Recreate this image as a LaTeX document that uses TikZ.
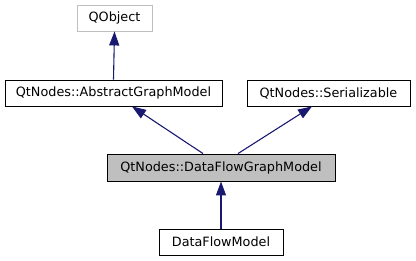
\documentclass[tikz,border=0pt]{standalone}
\usepackage{fontspec}
\setmainfont{DejaVu Sans}
\usepackage{tikz}
\usetikzlibrary{arrows.meta}

\begin{document}
\begin{tikzpicture}[
    x=1pt, y=-1pt,
    box/.style={rectangle, draw=black, line width=0.9pt, minimum height=26pt, inner sep=0pt, font=\fontsize{12.8}{14}\selectfont},
    arrow/.style={draw={rgb,255:red,25;green,25;blue,112}, line width=1.1pt, -{Triangle[length=14pt,width=10pt]}}
]
\useasboundingbox (0,0) rectangle (416,261);

% Nodes
\node[box, draw={rgb,255:red,191;green,191;blue,191}, minimum width=75pt] (qobject) at (114.5,18) {QObject};
\node[box, minimum width=217pt] (agm) at (113.5,93) {QtNodes::AbstractGraphModel};
\node[box, minimum width=163pt] (serial) at (328.5,93) {QtNodes::Serializable};
\node[box, fill={rgb,255:red,191;green,191;blue,191}, minimum width=228pt, minimum height=27pt] (dfgm) at (221,167.5) {QtNodes::DataFlowGraphModel};
\node[box, minimum width=124pt] (dfm) at (221,242) {DataFlowModel};

% Arrows
\draw[arrow] (agm.north) -- (qobject.south);
\draw[arrow] ([xshift=-18pt]dfgm.north) -- ([xshift=18.5pt]agm.south);
\draw[arrow] ([xshift=17pt]dfgm.north) -- ([xshift=-16.5pt]serial.south);
\draw[arrow] (dfm.north) -- (dfgm.south);

\end{tikzpicture}
\end{document}
